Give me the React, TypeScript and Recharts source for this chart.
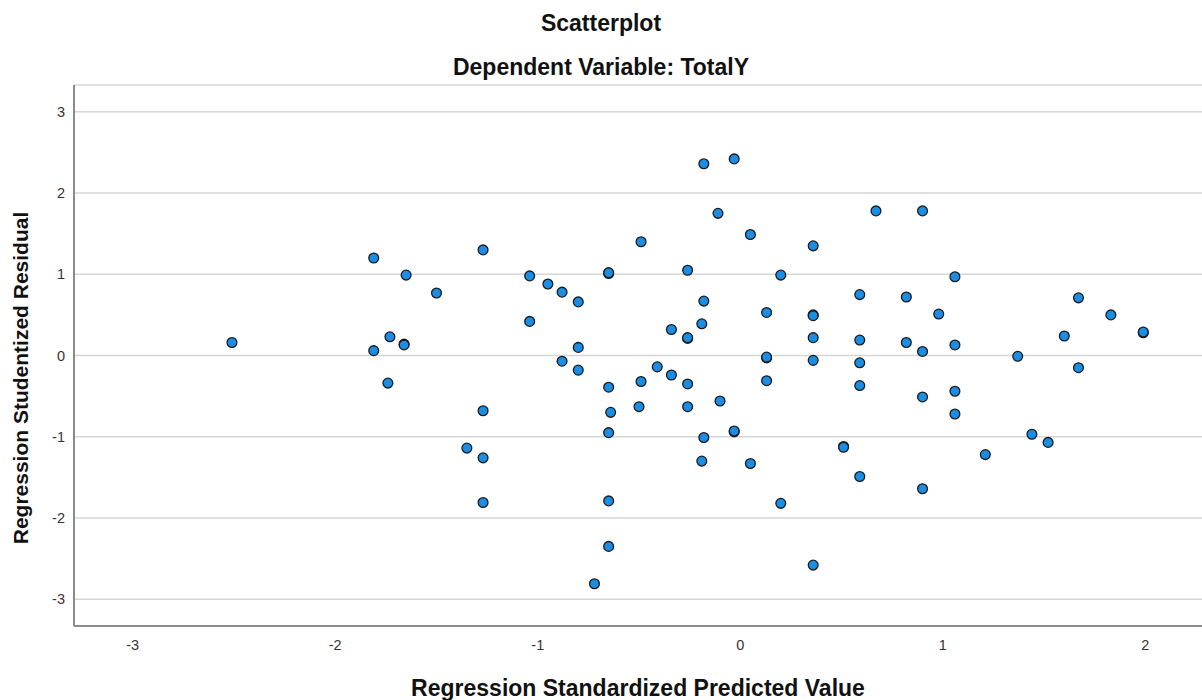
import { ScatterChart, Scatter, XAxis, YAxis, CartesianGrid } from 'recharts';

// Regression Standardized Predicted Value (x)
const predicted = [
  -2.51, -1.81, -1.65, -1.5, -1.27, -1.04, -0.95, -0.88, -0.8, -1.04,
  -1.73, -1.66, -1.66, -1.81, -0.8, -0.88, -1.74, -0.8, -1.27, -1.35,
  -1.27, -1.27, -0.72, -0.18, -0.03, -0.11, -0.49, 0.05, 0.36, 0.67,
  0.9, -0.65, -0.65, -0.26, 0.2, 1.06, -0.18, 0.59, 0.82, 0.13,
  0.36, 0.36, 0.98, 1.67, 1.83, -0.34, -0.26, -0.26, -0.19, 0.36,
  0.59, 0.82, 0.9, 1.06, 1.6, 1.99, 1.99, 1.37, 0.13, 0.13,
  0.36, 0.59, 1.67, -0.41, -0.34, -0.65, -0.49, -0.26, 0.13, 0.59,
  0.9, 1.06, 1.06, -0.64, -0.5, -0.26, -0.1, -0.65, -0.18, -0.03,
  -0.03, 0.51, 0.51, 1.44, 1.52, 1.21, -0.19, 0.05, 0.59, 0.9,
  -0.65, 0.2, -0.65, 0.36,
];

// Regression Studentized Residual (y)
const residual = [
  0.16, 1.2, 0.99, 0.77, 1.3, 0.98, 0.88, 0.78, 0.66, 0.42,
  0.23, 0.14, 0.13, 0.06, 0.1, -0.07, -0.34, -0.18, -0.68, -1.14,
  -1.26, -1.81, -2.81, 2.36, 2.42, 1.75, 1.4, 1.49, 1.35, 1.78,
  1.78, 1.01, 1.02, 1.05, 0.99, 0.97, 0.67, 0.75, 0.72, 0.53,
  0.5, 0.49, 0.51, 0.71, 0.5, 0.32, 0.21, 0.22, 0.39, 0.22,
  0.19, 0.16, 0.05, 0.13, 0.24, 0.28, 0.29, -0.01, -0.03, -0.02,
  -0.06, -0.09, -0.15, -0.14, -0.24, -0.39, -0.32, -0.35, -0.31, -0.37,
  -0.51, -0.44, -0.72, -0.7, -0.63, -0.63, -0.56, -0.95, -1.01, -0.94,
  -0.93, -1.12, -1.13, -0.97, -1.07, -1.22, -1.3, -1.33, -1.49, -1.64,
  -1.79, -1.82, -2.35, -2.58,
];

const xTicks = [-3, -2, -1, 0, 1, 2];
const yTicks = [-3, -2, -1, 0, 1, 2, 3];

const points = predicted.map((x, i) => ({ x, y: residual[i] }));

const FONT = "Arial, 'Liberation Sans', sans-serif";

const Dot = (props: any) => (
  <circle cx={props.cx} cy={props.cy} r={4.9} fill="#1a8de4" stroke="#1a1a1a" strokeWidth={1.3} />
);

// tick text, x axis centred under the value, y axis right-aligned left of the axis
const XTick = (props: any) => (
  <text x={props.x} y={props.y + 11} textAnchor="middle" dominantBaseline="central" fontSize={14.5} fontFamily={FONT} fill="#333">
    {props.payload.value}
  </text>
);
const YTick = (props: any) => (
  <text x={props.x - 1} y={props.y} textAnchor="end" dominantBaseline="central" fontSize={14.5} fontFamily={FONT} fill="#333">
    {props.payload.value}
  </text>
);

export default function App() {
  return (
    <div style={{ position: 'absolute', left: 0, top: 0, width: 1202, height: 700, background: '#fff', fontFamily: FONT }}>
      <div style={{ position: 'absolute', left: 0, width: 1202, top: 23, transform: 'translateY(-50%)', textAlign: 'center', fontSize: 23, fontWeight: 700, color: '#111' }}>
        Scatterplot
      </div>
      <div style={{ position: 'absolute', left: 0, width: 1202, top: 67, transform: 'translateY(-50%)', textAlign: 'center', fontSize: 23, fontWeight: 700, color: '#111' }}>
        Dependent Variable: TotalY
      </div>
      <ScatterChart width={1202} height={700} margin={{ top: 85, right: 0, bottom: 0, left: 0 }} style={{ position: 'absolute', left: 0, top: 0 }}>
        <CartesianGrid vertical={false} stroke="#d6d6d6" strokeWidth={1.6} />
        <XAxis
          type="number"
          dataKey="x"
          domain={[-3.29, 2.28]}
          ticks={xTicks}
          allowDataOverflow
          height={74}
          tickLine={false}
          axisLine={{ stroke: '#8a8a8a', strokeWidth: 2 }}
          tick={XTick}
          label={{
            content: () => (
              <text x={638} y={688} textAnchor="middle" dominantBaseline="central" fontSize={23} fontWeight={700} fontFamily={FONT} fill="#111">
                Regression Standardized Predicted Value
              </text>
            ),
          }}
        />
        <YAxis
          type="number"
          dataKey="y"
          domain={[-3.33, 3.33]}
          ticks={yTicks}
          allowDataOverflow
          width={74}
          tickLine={false}
          axisLine={{ stroke: '#8a8a8a', strokeWidth: 2 }}
          tick={YTick}
          label={{
            content: () => (
              <text x={20} y={378} transform="rotate(-90 20 378)" textAnchor="middle" dominantBaseline="central" fontSize={21} fontWeight={700} fontFamily={FONT} fill="#111">
                Regression Studentized Residual
              </text>
            ),
          }}
        />
        <Scatter data={points} shape={Dot} isAnimationActive={false} />
      </ScatterChart>
    </div>
  );
}
